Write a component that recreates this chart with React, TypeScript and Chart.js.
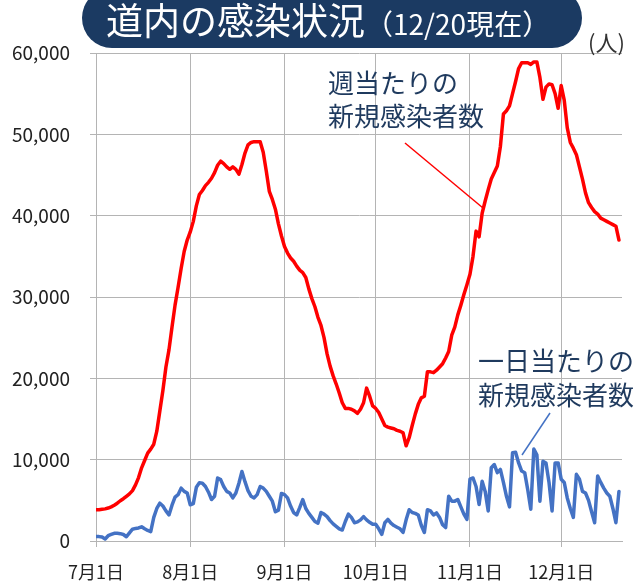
import { useEffect, useRef } from 'react';
import { Chart, registerables } from 'chart.js';

Chart.register(...registerables);

const FONT = '"Noto Sans CJK JP", "Noto Sans", sans-serif';

const TITLE_MAIN = '道内の感染状況';
const TITLE_SUB = '（12/20現在）';
const UNIT_LABEL = '(人)';
const WEEKLY_LABEL = ['週当たりの', '新規感染者数'];
const DAILY_LABEL = ['一日当たりの', '新規感染者数'];

// day index 0 = 7/1
const MONTH_STARTS = [0, 31, 62, 92, 123, 153];
const MONTH_LABELS = ['7月1日', '8月1日', '9月1日', '10月1日', '11月1日', '12月1日'];
const Y_TICKS = [0, 10000, 20000, 30000, 40000, 50000, 60000];

const WEEKLY_CASES = [
  3840, 3850, 3900, 3950, 4050, 4200, 4400, 4650, 4950, 5200,
  5500, 5800, 6200, 6900, 7800, 9000, 9900, 10800, 11300, 11900,
  13500, 16000, 18500, 21400, 23500, 26300, 29000, 31200, 33500, 35600,
  37000, 38000, 39300, 41200, 42600, 43100, 43700, 44100, 44600, 45300,
  46200, 46700, 46400, 46000, 45700, 46000, 45700, 45100, 46300, 47700,
  48700, 49000, 49100, 49100, 49100, 47800, 45500, 43000, 42000, 40800,
  39000, 37500, 36200, 35400, 34800, 34400, 33800, 33300, 33000, 32400,
  31000, 29800, 28800, 27500, 26500, 25000, 23000, 21500, 20300, 19300,
  18200, 17000, 16300, 16300, 16200, 16000, 15700, 16200, 17000, 18800,
  17800, 16600, 16300, 15800, 15000, 14200, 14000, 13900, 13800, 13600,
  13500, 13300, 11700, 12700, 14200, 15600, 16800, 17600, 17800, 20800,
  20800, 20700, 21000, 21400, 21800, 22500, 23300, 25300, 26300, 27800,
  29000, 30300, 31500, 32800, 35000, 38100, 37400, 40300, 41800, 43200,
  44500, 45300, 46100, 48500, 52500, 52900, 53500, 55000, 56500, 58100,
  58800, 58800, 58800, 58600, 58900, 58900, 57000, 54300, 55800, 56200,
  56100, 55000, 53200, 56000, 54200, 50800, 49000, 48300, 47500, 46000,
  44500, 42800, 41600, 41000, 40500, 40200, 39700, 39500, 39300, 39100,
  38900, 38700, 37000,
];

const DAILY_CASES = [
  550, 540, 480, 250, 650, 800, 950, 950, 900, 800,
  520, 1000, 1450, 1550, 1600, 1750, 1500, 1300, 1150, 2900,
  4000, 4650, 4300, 3700, 3200, 4400, 5400, 5700, 6500, 6100,
  5900, 4450, 4600, 6600, 7150, 7100, 6700, 6000, 5100, 5500,
  7750, 7550, 6700, 6100, 5900, 5300, 5900, 7100, 8550, 7300,
  6200, 5500, 5300, 5700, 6700, 6500, 6100, 5500, 4900, 3600,
  3800, 5850, 5700, 5300, 4300, 3500, 3200, 4100, 5100, 4000,
  3400, 2900, 2400, 2200, 3500, 3300, 3000, 2500, 2100, 1800,
  1500, 1350, 2400, 3300, 2900, 2250, 2350, 2600, 3000, 2600,
  2300, 2050, 2050, 1500, 820, 2250, 2650, 2200, 1900, 1700,
  1500, 1050, 2600, 3850, 3500, 3400, 3200, 1900, 1050, 3850,
  3700, 3200, 3450, 2900, 2000, 1650, 5500, 4900, 4900, 5100,
  4200, 3300, 2650, 7600, 7750, 6700, 4500, 7350, 6100, 3700,
  9000, 9400, 8400, 8800, 7200, 5500, 4200, 10850, 10900, 9600,
  8600, 8400, 6300, 3900, 11300, 10600, 4900, 9800, 9600, 7200,
  3700, 9600, 9600, 7600, 7200, 5300, 4000, 2900, 8200, 7600,
  6100, 5900, 5000, 3600, 2250, 8000, 7200, 6500, 5900, 5500,
  4000, 2250, 6100,
];

const GRID = '#b4b4b4';
const NAVY = '#1b3a62';
const TEXT_NAVY = '#1f3a5e';

const decorPlugin = {
  id: 'decor',
  afterDraw(chart: any) {
    const ctx = chart.ctx as CanvasRenderingContext2D;
    ctx.save();
    // title pill
    ctx.fillStyle = NAVY;
    ctx.beginPath();
    (ctx as any).roundRect(82, -12, 500, 60, 30);
    ctx.fill();
    ctx.fillStyle = '#ffffff';
    ctx.textBaseline = 'alphabetic';
    ctx.textAlign = 'left';
    ctx.font = `37px ${FONT}`;
    ctx.fillText(TITLE_MAIN, 106, 35);
    const w = ctx.measureText(TITLE_MAIN).width;
    ctx.font = `28px ${FONT}`;
    ctx.fillText(TITLE_SUB, 106 + w, 35);

    // unit
    ctx.fillStyle = '#333333';
    ctx.font = `22px ${FONT}`;
    ctx.fillText(UNIT_LABEL, 588, 51);

    // annotations
    ctx.fillStyle = TEXT_NAVY;
    ctx.font = `26px ${FONT}`;
    ctx.fillText(WEEKLY_LABEL[0], 328, 93);
    ctx.fillText(WEEKLY_LABEL[1], 328, 126);
    ctx.fillText(DAILY_LABEL[0], 478, 371);
    ctx.fillText(DAILY_LABEL[1], 478, 405);

    // leader lines
    ctx.lineWidth = 1.5;
    ctx.strokeStyle = '#ff0000';
    ctx.beginPath();
    ctx.moveTo(405, 143);
    ctx.lineTo(483, 208);
    ctx.stroke();
    ctx.strokeStyle = '#4472c4';
    ctx.beginPath();
    ctx.moveTo(550, 413);
    ctx.lineTo(522, 455);
    ctx.stroke();
    ctx.restore();
  },
};

export default function App() {
  const ref = useRef<HTMLCanvasElement>(null);
  useEffect(() => {
    const chart = new Chart(ref.current!, {
      type: 'line',
      data: {
        datasets: [
          {
            label: WEEKLY_LABEL.join(''),
            data: WEEKLY_CASES.map((y, i) => ({ x: i, y })),
            borderColor: '#ff0000',
            borderWidth: 3.5,
            pointRadius: 0,
            tension: 0,
            borderJoinStyle: 'round',
            borderCapStyle: 'round',
          },
          {
            label: DAILY_LABEL.join(''),
            data: DAILY_CASES.map((y, i) => ({ x: i, y })),
            borderColor: '#4472c4',
            borderWidth: 3.5,
            pointRadius: 0,
            tension: 0,
            borderJoinStyle: 'round',
            borderCapStyle: 'round',
          },
        ],
      },
      options: {
        responsive: false,
        animation: false,
        layout: { padding: { top: 53, right: 19, left: 0, bottom: 0 } },
        plugins: { legend: { display: false }, tooltip: { enabled: false } },
        scales: {
          x: {
            type: 'linear',
            min: 0,
            max: 173,
            afterBuildTicks: (s: any) => {
              s.ticks = MONTH_STARTS.map((v) => ({ value: v }));
            },
            afterFit: (s: any) => {
              s.height = 40;
            },
            ticks: {
              autoSkip: false,
              maxRotation: 0,
              minRotation: 0,
              padding: 14,
              color: '#222222',
              font: { family: FONT, size: 18 },
              callback: (v: any) => MONTH_LABELS[MONTH_STARTS.indexOf(Number(v))] ?? '',
            },
            grid: { color: GRID, lineWidth: 1, tickLength: 6 },
            border: { color: GRID, width: 1 },
          },
          y: {
            min: 0,
            max: 60000,
            afterBuildTicks: (s: any) => {
              s.ticks = Y_TICKS.map((v) => ({ value: v }));
            },
            afterFit: (s: any) => {
              s.width = 96;
            },
            ticks: {
              padding: 20,
              color: '#222222',
              font: { family: FONT, size: 19 },
              callback: (v: any) => Number(v).toLocaleString('en-US'),
            },
            grid: { color: GRID, lineWidth: 1, tickLength: 6 },
            border: { color: GRID, width: 1 },
          },
        },
      },
      plugins: [decorPlugin],
    });
    return () => chart.destroy();
  }, []);
  return (
    <div style={{ position: 'fixed', left: 0, top: 0, width: 641, height: 581, background: '#fff' }}>
      <canvas ref={ref} width={641} height={581} />
    </div>
  );
}
